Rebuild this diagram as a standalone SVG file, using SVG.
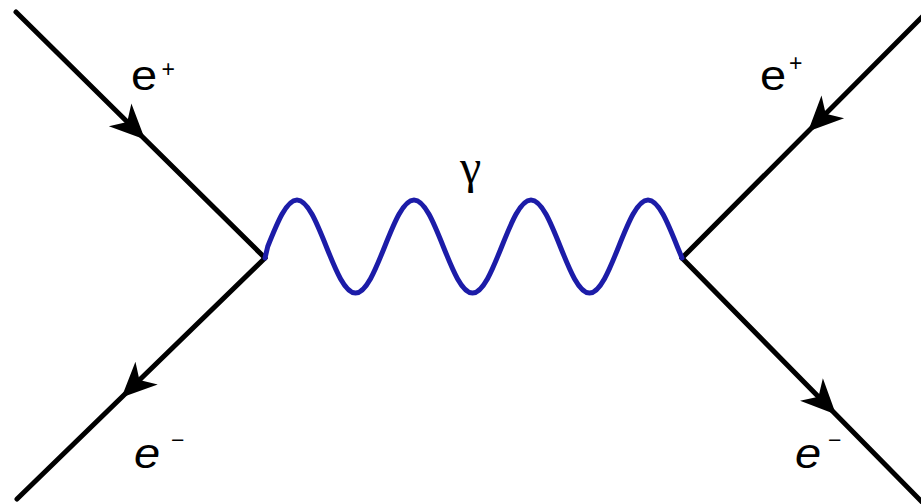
<svg xmlns="http://www.w3.org/2000/svg" xmlns:xlink="http://www.w3.org/1999/xlink" width="921" height="504" viewBox="0 0 921 504">
<style>
.fermion{stroke:#000;stroke-width:5;fill:none;stroke-linecap:round}
.photon{stroke:#1c1ca8;stroke-width:5;fill:none;stroke-linejoin:round;stroke-linecap:round}
.lbl{font-family:"Liberation Sans",Arial,sans-serif;font-size:42px;fill:#000}
.sup{font-family:"Liberation Sans",Arial,sans-serif;font-size:23px;fill:#000}
.it{font-style:italic}
.gam{font-family:"Liberation Serif","Times New Roman",serif;font-size:48px;fill:#000}
</style>
<defs>
<path id="arr" d="M0,0 L-35,-16 L-25,0 L-35,16 Z" fill="#000"/>
</defs>
<rect width="921" height="504" fill="#fff"/>
<g id="connectors">
<line class="fermion" x1="16" y1="12" x2="265" y2="258"/>
<line class="fermion" x1="265" y1="258" x2="17" y2="499"/>
<line class="fermion" x1="682" y1="258" x2="924" y2="15"/>
<line class="fermion" x1="682" y1="258" x2="924" y2="504"/>
<path class="photon" d="M265,258 L267.75,246.5 C277.29,222.68 286.41,200 297,200 C307.59,200 316.71,222.68 326.25,246.5 C335.79,270.32 344.91,293 355.5,293 C366.09,293 375.21,270.32 384.75,246.5 C394.29,222.68 403.41,200 414,200 C424.59,200 433.71,222.68 443.25,246.5 C452.79,270.32 461.91,293 472.5,293 C483.09,293 492.21,270.32 501.75,246.5 C511.29,222.68 520.41,200 531,200 C541.59,200 550.71,222.68 560.25,246.5 C569.79,270.32 578.91,293 589.5,293 C600.09,293 609.21,270.32 618.75,246.5 C628.29,222.68 637.41,200 648,200 C658.59,200 667.71,222.68 677.25,246.5 L682,258"/>
<use xlink:href="#arr" transform="translate(145,139.5) rotate(44.7)"/>
<use xlink:href="#arr" transform="translate(121.5,397.5) rotate(135.8)"/>
<use xlink:href="#arr" transform="translate(808,131.5) rotate(135.1)"/>
<use xlink:href="#arr" transform="translate(836,414.5) rotate(45.5)"/>
</g>
<g id="label-eplus-left"><text class="lbl" transform="translate(131,90) scale(1.12,1)">e</text><text class="sup" x="161.5" y="77">+</text></g>
<g id="label-eplus-right"><text class="lbl" transform="translate(760,90) scale(1.12,1)">e</text><text class="sup" x="789" y="71">+</text></g>
<g id="label-gamma"><text class="gam" x="460" y="183">γ</text></g>
<g id="label-eminus-left"><text class="lbl it" transform="translate(134,468) scale(1.12,1)">e</text><text class="sup" x="171" y="448">−</text></g>
<g id="label-eminus-right"><text class="lbl it" transform="translate(795,468) scale(1.12,1)">e</text><text class="sup" x="828" y="448">−</text></g>
</svg>
